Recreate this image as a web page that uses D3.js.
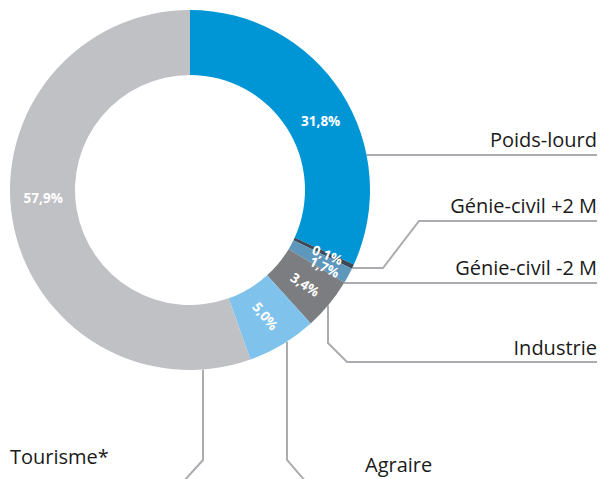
<!DOCTYPE html>
<html>
<head>
<meta charset="utf-8">
<script src="https://cdn.jsdelivr.net/npm/d3@7"></script>
<style>
    body { margin: 0; background: #fff; }
    svg { display: block; }
    .lbl { font-family: "Open Sans", sans-serif; font-size: 20px; fill: #1a1a1a; }
    .pct { font-family: "Open Sans", sans-serif; font-size: 13.5px; font-weight: bold; fill: #fff; }
</style>
</head>
<body>
<svg id="chart" width="602" height="479"></svg>
<script>
/***************************************************************
    Data
****************************************************************/
const categories = ["Poids-lourd", "Génie-civil +2 M", "Génie-civil -2 M", "Industrie", "Agraire", "Tourisme*"];
const shares = [31.8, 0.1, 1.7, 3.4, 5.0, 57.9];
// slice sizes as they are drawn in the picture (small slices are drawn wider than their share)
const drawnShares = [31.8, 0.4, 1.4, 4.7, 6.25, 55.45];
const pctLabels = ["31,8%", "0,1%", "1,7%", "3,4%", "5,0%", "57,9%"];
const colors = ["#0096d6", "#3b4957", "#5e97bc", "#7c7d80", "#7fc3ec", "#c0c1c5"];

/***************************************************************
    Layout
****************************************************************/
const cx = 190, cy = 190;
const outerR = 180, innerR = 115;
const lineColor = "#aaacaf";

// leader lines: a horizontal one leaves the ring at y, a vertical one at x
const leaders = [
    { kind: "h", y: 155, pts: [[597, 155]], label: [597, 147, "end"] },
    { kind: "h", y: 268, pts: [[383, 268], [419, 221], [597, 221]], label: [597, 213, "end"] },
    { kind: "h", y: 283, pts: [[597, 283]], label: [597, 275, "end"] },
    { kind: "v", x: 328, pts: [[328, 343], [347, 362], [597, 362]], label: [597, 355, "end"] },
    { kind: "v", x: 287, pts: [[287, 460], [306, 482]], label: [365, 472, "start"] },
    { kind: "v", x: 203, pts: [[203, 460], [183, 482]], label: [10, 464, "start"] }
];

// where each percentage sits: radius, optional fixed angle, rotate or not
const pctPlace = [
    { r: 148, angle: 62, rotate: false },
    { r: 152, angle: 115.3, rotate: true },
    { r: 155, angle: 119.8, rotate: true },
    { r: 149, rotate: true },
    { r: 147, rotate: true },
    { r: 147, angle: 267, rotate: false }
];

/***************************************************************
    Drawing
****************************************************************/
window.addEventListener('load', () => { draw() });

function draw() {
    const svg = d3.select("#chart");
    const pie = d3.pie().sort(null).value(d => d)(drawnShares);
    const arc = d3.arc().innerRadius(innerR).outerRadius(outerR);

    // leader lines
    const lines = svg.append("g");
    leaders.forEach((l, i) => {
        let start;
        if (l.kind === "h") start = [cx + Math.sqrt(outerR * outerR - (l.y - cy) ** 2), l.y];
        else start = [l.x, cy + Math.sqrt(outerR * outerR - (l.x - cx) ** 2)];
        lines.append("path")
            .attr("d", d3.line()([start].concat(l.pts)))
            .attr("fill", "none")
            .attr("stroke", lineColor)
            .attr("stroke-width", 2);
        svg.append("text").attr("class", "lbl")
            .attr("x", l.label[0]).attr("y", l.label[1])
            .attr("text-anchor", l.label[2])
            .text(categories[i]);
    });

    const g = svg.append("g").attr("transform", `translate(${cx},${cy})`);
    g.selectAll("path").data(pie).enter().append("path")
        .attr("d", arc)
        .attr("fill", (d, i) => colors[i]);

    g.selectAll("text").data(pie).enter().append("text")
        .attr("class", "pct")
        .attr("text-anchor", "middle")
        .attr("dominant-baseline", "central")
        .attr("transform", (d, i) => {
            const p = pctPlace[i];
            const deg = p.angle !== undefined ? p.angle : (d.startAngle + d.endAngle) / 2 * 180 / Math.PI;
            const a = deg * Math.PI / 180;
            const x = Math.sin(a) * p.r, y = -Math.cos(a) * p.r;
            const rot = p.rotate ? (deg - 90) * 0.85 : 0;
            return `translate(${x},${y}) rotate(${rot})`;
        })
        .text((d, i) => pctLabels[i]);
}
</script>
</body>
</html>
